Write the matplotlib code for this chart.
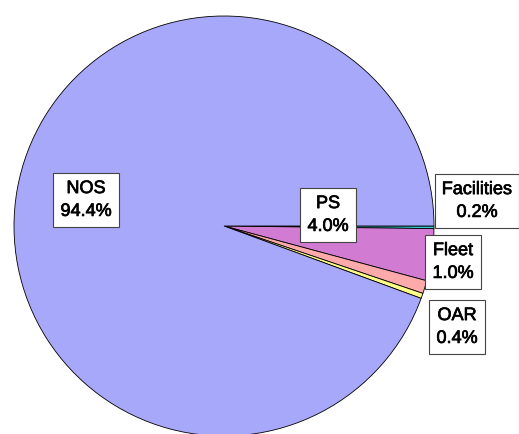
import matplotlib
matplotlib.use("Agg")
import matplotlib.pyplot as plt
import matplotlib.patheffects as pe

plt.rcParams['font.family'] = ['Liberation Sans', 'DejaVu Sans']

# slices, clockwise from 3 o'clock
names = ["Facilities", "PS", "Fleet", "OAR", "NOS"]
shares = [0.2, 4.0, 1.0, 0.4, 94.4]
colors = ["#33CCCC", "#D27BD2", "#FFAAAA", "#FFFF88", "#A8A8FA"]

# label box centres (pixels, y up)
label_pos = {
    "Facilities": (477, 434 - 201),
    "PS": (328, 434 - 215),
    "Fleet": (453, 434 - 262),
    "OAR": (457, 434 - 327),
    "NOS": (86, 434 - 200),
}

fig = plt.figure(figsize=(5.19, 4.34), dpi=100)
ax = fig.add_axes([0, 0, 1, 1])

ax.pie(shares, colors=colors, startangle=0, counterclock=False,
       center=(224, 434 - 226), radius=210, frame=True,
       wedgeprops=dict(edgecolor="black", linewidth=0.6))
ax.set_xlim(0, 519)
ax.set_ylim(0, 434)
ax.set_aspect("equal")
ax.axis("off")

for n, v in zip(names, shares):
    x, y = label_pos[n]
    ax.text(x, y, f"{n}\n{v:.1f}%", ha="center", va="center", fontsize=13,
            linespacing=1.45,
            path_effects=[pe.withStroke(linewidth=0.5, foreground="black")],
            bbox=dict(boxstyle="square,pad=0.4", facecolor="white",
                      edgecolor="#444444", linewidth=0.8))

plt.savefig("out.png", dpi=100)
